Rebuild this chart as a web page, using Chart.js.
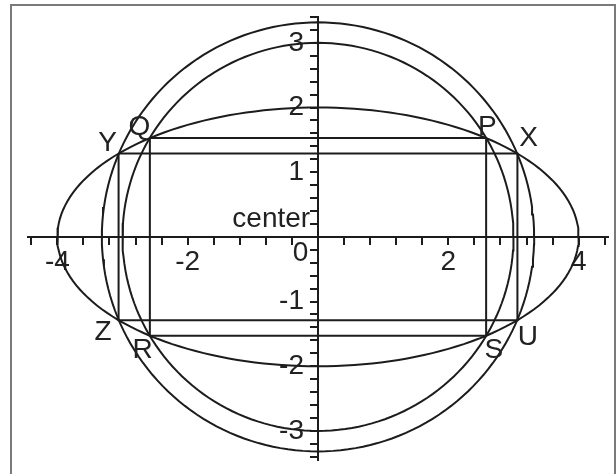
<!DOCTYPE html>
<html>
<head>
<meta charset="utf-8">
<style>
  html, body { margin: 0; padding: 0; background: #fff; }
  #wrap { position: relative; width: 616px; height: 474px; overflow: hidden; }
  #frame { position: absolute; left: 10px; top: 4px; width: 606px; height: 490px;
           border: 2px solid #7a7a7a; box-sizing: border-box; }
  canvas { position: absolute; left: 0; top: 0; }
</style>
<script src="https://cdn.jsdelivr.net/npm/chart.js@4.4.1/dist/chart.umd.min.js"></script>
</head>
<body>
<div id="wrap">
  <div id="frame"></div>
  <canvas id="chart" width="616" height="474"></canvas>
</div>
<script>
// shapes
const ellipseAxes = [4, 2];          // semi-axis along x, along y
const circleRadii = [3, 3.317];
const innerRectX = [-2.58, 2.58];    // Q P S R
const innerRectY = [-1.53, 1.53];
const outerRectX = [-3.06, 3.06];    // Y X U Z
const outerRectY = [-1.29, 1.29];

// axis ranges and ticks
const xRange = [-4.45, 4.45];
const yRange = [-3.45, 3.4];
const xStep = 0.4;
const yStep = 0.2;

// corner letters and where they sit
const pointNames = ['Y', 'Q', 'P', 'X', 'Z', 'R', 'S', 'U'];
const pointX = [-3.23, -2.74, 2.60, 3.23, -3.30, -2.69, 2.70, 3.22];
const pointY = [1.45, 1.70, 1.70, 1.52, -1.48, -1.75, -1.75, -1.55];

const LINE = '#1c1c1c';
const FONT = '"Liberation Sans Narrow", "Liberation Sans", Arial, sans-serif';

function ellipsePoints(a, b) {
  const pts = [];
  for (let i = 0; i <= 360; i += 2) {
    const t = i * Math.PI / 180;
    pts.push({ x: a * Math.cos(t), y: b * Math.sin(t) });
  }
  return pts;
}

function rectPoints(xs, ys) {
  return [
    { x: xs[0], y: ys[1] }, { x: xs[1], y: ys[1] },
    { x: xs[1], y: ys[0] }, { x: xs[0], y: ys[0] },
    { x: xs[0], y: ys[1] }
  ];
}

const shapes = [
  ellipsePoints(ellipseAxes[0], ellipseAxes[1]),
  ...circleRadii.map(r => ellipsePoints(r, r)),
  rectPoints(innerRectX, innerRectY),
  rectPoints(outerRectX, outerRectY)
];

// letters, "center" and the lone "0"
const textPlugin = {
  id: 'texts',
  afterDraw(chart) {
    const { ctx, scales: { x, y } } = chart;
    ctx.save();
    ctx.fillStyle = '#222';
    ctx.font = '28px ' + FONT;
    ctx.textAlign = 'center';
    ctx.textBaseline = 'middle';
    pointNames.forEach((n, i) => {
      ctx.fillText(n, x.getPixelForValue(pointX[i]), y.getPixelForValue(pointY[i]));
    });
    ctx.textAlign = 'right';
    ctx.fillText('center', x.getPixelForValue(-0.12), y.getPixelForValue(0.27));
    ctx.fillText('0', x.getPixelForValue(-0.15), y.getPixelForValue(-0.25));
    ctx.restore();
  }
};

function isMultiple(v, m) {
  return Math.abs(v / m - Math.round(v / m)) < 1e-6;
}

new Chart(document.getElementById('chart'), {
  type: 'scatter',
  data: {
    datasets: shapes.map(pts => ({
      data: pts,
      showLine: true,
      borderColor: LINE,
      borderWidth: 2,
      pointRadius: 0,
      fill: false,
      tension: 0
    }))
  },
  options: {
    responsive: false,
    animation: false,
    layout: { padding: { left: 28, right: 8, top: 17, bottom: 14 } },
    plugins: { legend: { display: false }, tooltip: { enabled: false } },
    scales: {
      x: {
        type: 'linear',
        position: { y: 0 },
        min: xRange[0],
        max: xRange[1],
        border: { color: LINE, width: 2 },
        grid: { drawOnChartArea: false, tickLength: 7, color: LINE, lineWidth: 2 },
        ticks: {
          stepSize: xStep,
          includeBounds: false,
          autoSkip: false,
          maxRotation: 0,
          padding: 2,
          color: '#222',
          font: { family: FONT, size: 28 },
          // an empty array keeps the tick mark but takes no room
          callback: v => (isMultiple(v, 2) && Math.abs(v) > 1e-6) ? String(Math.round(v)) : []
        }
      },
      y: {
        type: 'linear',
        position: { x: 0 },
        min: yRange[0],
        max: yRange[1],
        border: { color: LINE, width: 2 },
        grid: { drawOnChartArea: false, tickLength: 7, color: LINE, lineWidth: 2 },
        ticks: {
          stepSize: yStep,
          includeBounds: false,
          autoSkip: false,
          color: '#222',
          font: { family: FONT, size: 28 },
          // centred axis puts labels on the line, the trailing space moves them left of the ticks
          callback: v => (isMultiple(v, 1) && Math.abs(v) > 1e-6) ? String(Math.round(v)) + '\u2002' : []
        }
      }
    }
  },
  plugins: [textPlugin]
});
</script>
</body>
</html>
